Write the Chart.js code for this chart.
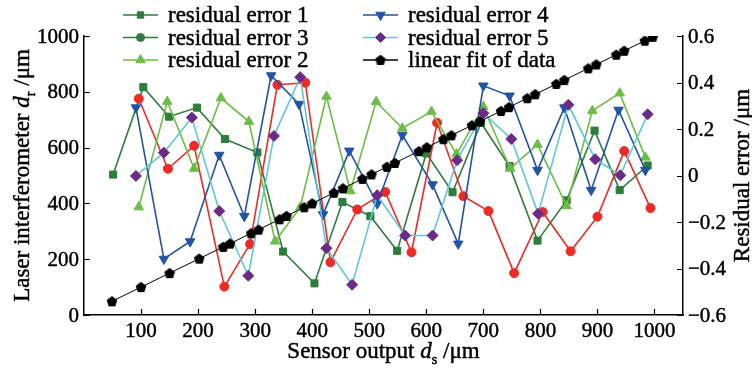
<!DOCTYPE html>
<html>
<head>
<meta charset="utf-8">
<script src="https://cdn.jsdelivr.net/npm/chart.js@4.4.0/dist/chart.umd.min.js"></script>
<style>
  html, body { margin: 0; padding: 0; background: #fff; }
  #wrap { width: 752px; height: 370px; position: relative; }
</style>
</head>
<body>
<div id="wrap"><canvas id="myChart" width="752" height="370"></canvas></div>
<script>
// sensor output (x) and residual error (y, right axis) for each run
const err1X = [51, 104, 149, 198, 247, 304, 349, 404, 453, 502, 549, 600, 646, 696, 746, 795, 846, 895, 939, 988];
const err1Y = [0.004, 0.38, 0.253, 0.292, 0.157, 0.099, -0.327, -0.464, -0.114, -0.175, -0.324, 0.095, -0.072, 0.226, 0.04, -0.28, -0.107, 0.193, -0.063, 0.043];

const err2X = [96, 146, 193, 240, 289, 335, 379, 425, 467, 512, 558, 609, 653, 700, 747, 795, 846, 891, 939, 984];
const err2Y = [-0.136, 0.318, 0.03, 0.333, 0.232, -0.283, -0.137, 0.34, -0.067, 0.317, 0.203, 0.275, 0.092, 0.296, 0.03, 0.133, -0.131, 0.278, 0.354, 0.078];

const err3X = [96, 147, 193, 246, 291, 339, 388, 432, 479, 528, 574, 619, 665, 709, 754, 804, 853, 900, 947, 993];
const err3Y = [0.33, 0.029, 0.128, -0.478, -0.295, 0.39, 0.399, -0.373, -0.146, -0.071, -0.33, 0.227, -0.089, -0.153, -0.42, -0.157, -0.326, -0.177, 0.105, -0.14];

const err4X = [91, 140, 186, 237, 281, 328, 377, 419, 465, 514, 558, 611, 656, 700, 746, 795, 842, 889, 937, 984];
const err4Y = [0.292, -0.359, -0.284, 0.088, -0.175, 0.43, 0.307, -0.168, 0.106, -0.121, 0.174, -0.039, -0.294, 0.386, 0.343, 0.023, 0.292, -0.063, 0.282, 0.023];

const err5X = [91, 140, 189, 237, 288, 333, 379, 425, 470, 514, 563, 611, 654, 700, 749, 796, 849, 896, 940, 988];
const err5Y = [-0.002, 0.098, 0.249, -0.153, -0.431, 0.17, 0.423, -0.313, -0.47, -0.085, -0.258, -0.258, 0.066, 0.268, 0.157, -0.164, 0.304, 0.07, 0.001, 0.263];

// laser interferometer reading vs sensor output (left axis)
const fitX = [49, 100, 150, 202, 244, 256, 293, 306, 343, 355, 386, 400, 438, 454, 488, 504, 531, 545, 587, 601, 630, 644, 680, 694, 731, 745, 777, 791, 828, 842, 884, 898, 933, 947, 983, 997];
const fitY = [49, 100, 150, 202, 244, 256, 293, 306, 343, 355, 386, 400, 438, 454, 488, 504, 531, 545, 587, 601, 630, 644, 680, 694, 731, 745, 777, 791, 828, 842, 884, 898, 933, 947, 983, 997];

const xTicks = [100, 200, 300, 400, 500, 600, 700, 800, 900, 1000];
const leftTicks = [0, 200, 400, 600, 800, 1000];
const rightTicks = [-0.6, -0.4, -0.2, 0, 0.2, 0.4, 0.6];

const SERIF = "'Liberation Serif', 'DejaVu Serif', serif";
const DARK_GREEN = '#2f7d3d';
const LIGHT_GREEN = '#6cbd46';
const RED = '#ee2a26';
const BLUE = '#2253a6';
const CYAN = '#5dc8d8';
const PURPLE = '#6c2a88';

// pentagon marker for the fit points
const pent = document.createElement('canvas');
pent.width = 12; pent.height = 12;
(() => {
  const c = pent.getContext('2d');
  c.fillStyle = '#000';
  c.beginPath();
  for (let i = 0; i < 5; i++) {
    const a = -Math.PI / 2 + i * 2 * Math.PI / 5;
    const px = 6 + 5.6 * Math.cos(a), py = 6.4 + 5.6 * Math.sin(a);
    i ? c.lineTo(px, py) : c.moveTo(px, py);
  }
  c.closePath();
  c.fill();
})();

const pts = (xs, ys) => xs.map((x, i) => ({ x: x, y: ys[i] }));
const fmtRight = v => Math.abs(v) < 1e-9 ? '0' : (v < 0 ? '\u2212' : '') + Math.abs(v).toFixed(1);

// text with a hairline stroke so it reads as heavy as the scanned original
function txt(ctx, s, x, y) {
  ctx.fillText(s, x, y);
  ctx.strokeText(s, x, y);
}

function drawRich(ctx, parts, x, y, size) {
  const fontFor = p => (p.italic ? 'italic ' : '') + (p.sub ? size * 0.62 : size) + 'px ' + SERIF;
  let total = 0;
  parts.forEach(p => { ctx.font = fontFor(p); total += ctx.measureText(p.t).width; });
  let cx = x - total / 2;
  ctx.textAlign = 'left';
  ctx.textBaseline = 'alphabetic';
  parts.forEach(p => {
    ctx.font = fontFor(p);
    txt(ctx, p.t, cx, y + (p.sub ? size * 0.28 : 0));
    cx += ctx.measureText(p.t).width;
  });
}

const legendItems = [
  { label: 'residual error 1', line: DARK_GREEN, fill: DARK_GREEN, style: 'rect', r: 4.5, col: 0, row: 0 },
  { label: 'residual error 3', line: DARK_GREEN, fill: DARK_GREEN, style: 'circle', r: 4, col: 0, row: 1 },
  { label: 'residual error 2', line: LIGHT_GREEN, fill: LIGHT_GREEN, style: 'triangle', r: 5.5, col: 0, row: 2 },
  { label: 'residual error 4', line: BLUE, fill: BLUE, style: 'triangle', rot: 180, r: 5.5, col: 1, row: 0 },
  { label: 'residual error 5', line: CYAN, fill: PURPLE, style: 'rectRot', r: 5, col: 1, row: 1 },
  { label: 'linear fit of data', line: '#000', fill: '#000', style: pent, r: 5, col: 1, row: 2 }
];

const decorPlugin = {
  id: 'decor',
  afterDraw(chart) {
    const ctx = chart.ctx;
    const { x, yL, yR } = chart.scales;
    const area = chart.chartArea;
    ctx.save();
    // inward tick marks
    ctx.strokeStyle = '#000';
    ctx.lineWidth = 1.2;
    ctx.beginPath();
    xTicks.forEach(v => {
      const px = Math.round(x.getPixelForValue(v)) + 0.5;
      ctx.moveTo(px, area.bottom); ctx.lineTo(px, area.bottom - 6);
    });
    leftTicks.forEach(v => {
      const py = Math.round(yL.getPixelForValue(v)) + 0.5;
      ctx.moveTo(area.left, py); ctx.lineTo(area.left + 6, py);
    });
    rightTicks.forEach(v => {
      const py = Math.round(yR.getPixelForValue(v)) + 0.5;
      ctx.moveTo(area.right, py); ctx.lineTo(area.right - 6, py);
    });
    ctx.stroke();

    // tick labels
    ctx.fillStyle = '#000';
    ctx.strokeStyle = '#000';
    ctx.lineWidth = 0.45;
    ctx.font = '21px ' + SERIF;
    ctx.textAlign = 'center';
    ctx.textBaseline = 'top';
    xTicks.forEach(v => txt(ctx, String(v), x.getPixelForValue(v), area.bottom + 6));
    ctx.textAlign = 'right';
    ctx.textBaseline = 'middle';
    leftTicks.forEach(v => txt(ctx, String(v), area.left - 5, yL.getPixelForValue(v) + 1));
    ctx.textAlign = 'left';
    rightTicks.forEach(v => txt(ctx, fmtRight(v), area.right + 5, yR.getPixelForValue(v) + 1));

    // axis titles
    drawRich(ctx, [{ t: 'Sensor output ' }, { t: 'd', italic: true }, { t: 's', sub: true }, { t: ' /μm' }],
      (area.left + area.right) / 2, 358, 23);
    ctx.save();
    ctx.translate(29, (area.top + area.bottom) / 2);
    ctx.rotate(-Math.PI / 2);
    drawRich(ctx, [{ t: 'Laser interferometer ' }, { t: 'd', italic: true }, { t: 'r', sub: true }, { t: ' /μm' }], 0, 0, 23);
    ctx.restore();
    ctx.save();
    ctx.translate(749, (area.top + area.bottom) / 2);
    ctx.rotate(-Math.PI / 2);
    drawRich(ctx, [{ t: 'Residual error /μm' }], 0, 0, 23);
    ctx.restore();

    // legend in two columns
    const colX = [123, 363];
    const rowY = [15, 37.5, 60];
    legendItems.forEach(it => {
      const lx = colX[it.col], ly = rowY[it.row];
      ctx.strokeStyle = it.line;
      ctx.lineWidth = 1.6;
      ctx.beginPath();
      ctx.moveTo(lx, ly); ctx.lineTo(lx + 35, ly);
      ctx.stroke();
      ctx.fillStyle = it.fill;
      ctx.strokeStyle = it.fill;
      ctx.lineWidth = 1;
      Chart.helpers.drawPoint(ctx, { pointStyle: it.style, radius: it.r, rotation: it.rot || 0, borderWidth: 1 }, lx + 17.5, ly);
      ctx.fillStyle = '#000';
      ctx.strokeStyle = '#000';
      ctx.lineWidth = 0.45;
      ctx.font = '23px ' + SERIF;
      ctx.textAlign = 'left';
      ctx.textBaseline = 'middle';
      txt(ctx, it.label, lx + 45, ly + 1);
    });
    ctx.restore();
  }
};

const series = (label, xs, ys, lineColor, markColor, style, radius, extra) => Object.assign({
  label: label,
  data: pts(xs, ys),
  yAxisID: 'yR',
  showLine: true,
  borderColor: lineColor,
  borderWidth: 1.6,
  pointBackgroundColor: markColor,
  pointBorderColor: markColor,
  pointBorderWidth: 1,
  pointStyle: style,
  pointRadius: radius,
  tension: 0
}, extra || {});

new Chart(document.getElementById('myChart'), {
  type: 'scatter',
  data: {
    datasets: [
      {
        label: 'linear fit of data',
        data: pts(fitX, fitY),
        yAxisID: 'yL',
        showLine: true,
        borderColor: '#000',
        borderWidth: 1,
        pointBackgroundColor: '#000',
        pointBorderColor: '#000',
        pointStyle: pent,
        pointRadius: 5
      },
      series('residual error 5', err5X, err5Y, CYAN, PURPLE, 'rectRot', 5.5),
      series('residual error 4', err4X, err4Y, BLUE, BLUE, 'triangle', 5.5, { pointRotation: 180 }),
      series('residual error 2', err2X, err2Y, LIGHT_GREEN, LIGHT_GREEN, 'triangle', 5.5),
      series('residual error 3', err3X, err3Y, RED, RED, 'circle', 4.5),
      series('residual error 1', err1X, err1Y, DARK_GREEN, DARK_GREEN, 'rect', 5)
    ]
  },
  options: {
    responsive: false,
    animation: false,
    layout: { padding: { top: 36, left: 0, right: 0, bottom: 0 } },
    plugins: { legend: { display: false }, tooltip: { enabled: false } },
    scales: {
      x: {
        type: 'linear',
        min: 0,
        max: 1050,
        afterFit: s => { s.height = 55; },
        grid: { drawOnChartArea: false, drawTicks: false },
        border: { color: '#000', width: 1.5 },
        ticks: { display: false }
      },
      yL: {
        type: 'linear',
        position: 'left',
        min: 0,
        max: 1000,
        afterFit: s => { s.width = 84; },
        grid: { drawOnChartArea: false, drawTicks: false },
        border: { color: '#000', width: 1.5 },
        ticks: { display: false }
      },
      yR: {
        type: 'linear',
        position: 'right',
        min: -0.6,
        max: 0.6,
        afterFit: s => { s.width = 69; },
        grid: { drawOnChartArea: false, drawTicks: false },
        border: { color: '#000', width: 1.5 },
        ticks: { display: false }
      }
    }
  },
  plugins: [decorPlugin]
});
</script>
</body>
</html>
